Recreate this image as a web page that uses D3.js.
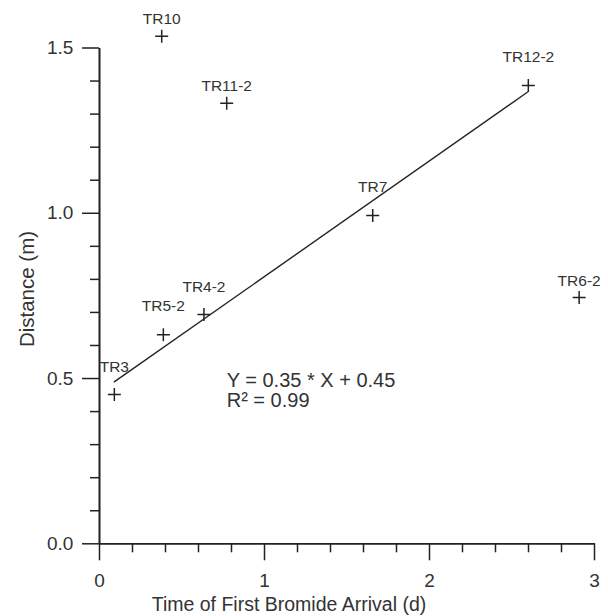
<!DOCTYPE html>
<html>
<head>
<meta charset="utf-8">
<script src="https://cdn.jsdelivr.net/npm/d3@7"></script>
<style>
  html, body { margin: 0; padding: 0; background: #fff; }
  svg { display: block; font-family: "Liberation Sans", Arial, sans-serif; }
</style>
</head>
<body>
<svg id="chart" width="608" height="616"></svg>
<script>
// ---- data ----
const labels  = ["TR10", "TR11-2", "TR12-2", "TR7", "TR6-2", "TR3", "TR5-2", "TR4-2"];
const timeDays = [0.38, 0.774, 2.602, 1.659, 2.91, 0.093, 0.39, 0.636];
const distanceM = [1.534, 1.331, 1.385, 0.992, 0.744, 0.45, 0.631, 0.692];
const xMajorTicks = [0, 1, 2, 3];
const yMajorTicks = [0.0, 0.5, 1.0, 1.5];
const fitSlope = 0.35;
const fitIntercept = 0.456;
const fitRange = [0.09, 2.6];
const equationText = "Y = 0.35 * X + 0.45";
const r2Text = "R\u00B2 = 0.99";
const xTitle = "Time of First Bromide Arrival (d)";
const yTitle = "Distance (m)";

// label vertical offsets (style, px above marker centre)
const labelLift = [12, 12.5, 24, 23, 11, 23, 24, 22.5];

// ---- layout ----
const svg = d3.select("#chart");
const ink = "#222";
const textCol = "#333";

const x = d3.scaleLinear().domain([0, 3]).range([99, 594]);
const y = d3.scaleLinear().domain([0, 1.5]).range([543.3, 47.5]);

const g = svg.append("g");

// minor ticks
const xMinor = d3.range(0, 3.0001, 0.2).filter(v => Math.abs(v - Math.round(v)) > 1e-6);
const yMinor = d3.range(0, 1.5001, 0.1).filter(v => Math.abs(v * 2 - Math.round(v * 2)) > 1e-6);

const xAxisMinor = d3.axisBottom(x).tickValues(xMinor).tickSize(9).tickSizeOuter(0).tickFormat("");
const yAxisMinor = d3.axisLeft(y).tickValues(yMinor).tickSize(9).tickSizeOuter(0).tickFormat("");
const xAxis = d3.axisBottom(x).tickValues(xMajorTicks).tickSize(17).tickSizeOuter(0).tickPadding(13).tickFormat(d3.format("d"));
const yAxis = d3.axisLeft(y).tickValues(yMajorTicks).tickSize(17).tickSizeOuter(0).tickPadding(8.7).tickFormat(d3.format(".1f"));

function styleAxis(sel) {
  sel.selectAll("path.domain").attr("stroke", ink).attr("stroke-width", 1.6);
  sel.selectAll(".tick line").attr("stroke", ink).attr("stroke-width", 1.5);
  sel.selectAll(".tick text").attr("fill", textCol).attr("font-size", 19)
     .attr("font-family", "'Liberation Sans', Arial, sans-serif");
}

g.append("g").attr("transform", `translate(0,${y(0)})`).call(xAxisMinor).call(styleAxis);
g.append("g").attr("transform", `translate(${x(0)},0)`).call(yAxisMinor).call(styleAxis);
g.append("g").attr("transform", `translate(0,${y(0)})`).call(xAxis).call(styleAxis);
g.append("g").attr("transform", `translate(${x(0)},0)`).call(yAxis).call(styleAxis);

// axis titles
g.append("text")
  .attr("x", 289)
  .attr("y", 610.7)
  .attr("text-anchor", "middle")
  .attr("font-size", 19.5)
  .attr("fill", textCol)
  .text(xTitle);

g.append("text")
  .attr("transform", `translate(34,289) rotate(-90)`)
  .attr("text-anchor", "middle")
  .attr("font-size", 20.5)
  .attr("fill", textCol)
  .text(yTitle);

// regression line
g.append("line")
  .attr("x1", x(fitRange[0])).attr("y1", y(fitSlope * fitRange[0] + fitIntercept))
  .attr("x2", x(fitRange[1])).attr("y2", y(fitSlope * fitRange[1] + fitIntercept))
  .attr("stroke", ink).attr("stroke-width", 1.4);

// points as plus markers
const pts = labels.map((l, i) => ({ label: l, t: timeDays[i], d: distanceM[i], lift: labelLift[i] }));
const arm = 6.5;
const pg = g.selectAll("g.pt").data(pts).join("g").attr("class", "pt")
  .attr("transform", p => `translate(${x(p.t)},${y(p.d)})`);
pg.append("path")
  .attr("d", `M${-arm},0H${arm}M0,${-arm}V${arm}`)
  .attr("stroke", ink).attr("stroke-width", 1.5).attr("fill", "none");
pg.append("text")
  .attr("y", p => -p.lift)
  .attr("text-anchor", "middle")
  .attr("font-size", 15.5)
  .attr("fill", textCol)
  .text(p => p.label);

// equation
const eqX = x(0.774);
g.append("text").attr("x", eqX).attr("y", 386.7)
  .attr("font-size", 20).attr("fill", textCol).text(equationText);
g.append("text").attr("x", eqX).attr("y", 407.3)
  .attr("font-size", 20).attr("fill", textCol).text(r2Text);
</script>
</body>
</html>
